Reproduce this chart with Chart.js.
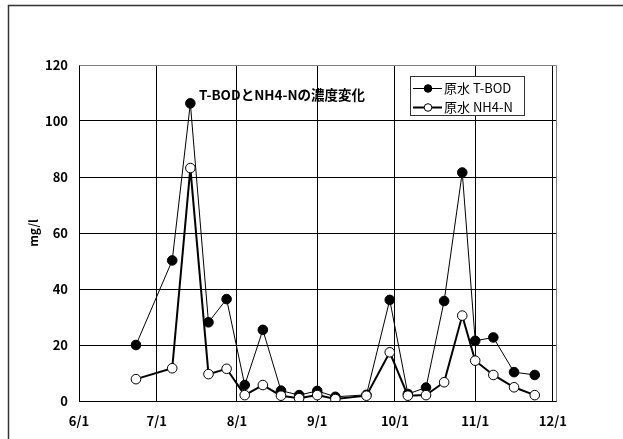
<!DOCTYPE html>
<html>
<head>
<meta charset="utf-8">
<script src="https://cdn.jsdelivr.net/npm/chart.js@4.4.1/dist/chart.umd.min.js"></script>
<style>
  html, body { margin: 0; padding: 0; background: #fff; }
  #wrap { width: 623px; height: 439px; }
</style>
</head>
<body>
<div id="wrap"><canvas id="c" width="623" height="439"></canvas></div>
<script>
// Sampling dates (month/day) and measured concentrations in mg/l
const sampleDates = ['6/23', '7/7', '7/14', '7/21', '7/28', '8/4', '8/11', '8/18', '8/25', '9/1',
                     '9/8', '9/20', '9/29', '10/6', '10/13', '10/20', '10/27', '11/1', '11/8', '11/16', '11/24'];
const tBod = [20, 50.2, 106.3, 28.1, 36.4, 5.7, 25.4, 3.7, 2.1, 3.6,
              1.5, 2.2, 36.1, 2.5, 4.8, 35.7, 81.6, 21.5, 22.7, 10.3, 9.3];
const nh4n = [7.8, 11.7, 83.2, 9.6, 11.5, 2.1, 5.7, 1.9, 1.0, 2.1,
              0.7, 1.9, 17.4, 1.9, 2.1, 6.7, 30.5, 14.4, 9.3, 4.9, 2.1];

// Axis ticks
const monthTicks = ['6/1', '7/1', '8/1', '9/1', '10/1', '11/1', '12/1'];
const yTickValues = [0, 20, 40, 60, 80, 100, 120];

// Texts
const chartTitle = 'T-BODとNH4-Nの濃度変化';
const seriesNames = ['原水 T-BOD', '原水 NH4-N'];
const yAxisTitle = 'mg/l';

// Days elapsed since 6/1 for a "m/d" string
function dayOf(md) {
  const [m, d] = md.split('/').map(Number);
  return (Date.UTC(2001, m - 1, d) - Date.UTC(2001, 5, 1)) / 86400000;
}

const toPoints = vals => vals.map((v, i) => ({ x: dayOf(sampleDates[i]), y: v }));

const jpFont = "'Noto Sans CJK JP', sans-serif";
const tickFont = { family: jpFont, size: 13, weight: 'bold' };

// Frame, title and legend box drawn on the canvas
const decor = {
  id: 'decor',
  beforeDraw(chart) {
    const ctx = chart.ctx;
    ctx.save();
    ctx.fillStyle = '#fff';
    ctx.fillRect(0, 0, chart.width, chart.height);
    ctx.strokeStyle = '#333';
    ctx.lineWidth = 1.5;
    ctx.strokeRect(8.5, 5.5, 800, 600);
    ctx.restore();
  },
  beforeDatasetsDraw(chart) {
    const { ctx, chartArea: a } = chart;
    ctx.save();
    ctx.strokeStyle = '#808080';
    ctx.lineWidth = 1;
    ctx.beginPath();
    ctx.moveTo(Math.round(a.left) + 0.5, Math.round(a.top) + 0.5);
    ctx.lineTo(Math.round(a.right) + 0.5, Math.round(a.top) + 0.5);
    ctx.lineTo(Math.round(a.right) + 0.5, Math.round(a.bottom) + 0.5);
    ctx.stroke();
    ctx.restore();
  },
  afterDraw(chart) {
    const ctx = chart.ctx;
    ctx.save();
    // chart title inside the plot
    ctx.fillStyle = '#000';
    ctx.font = 'bold 13.5px ' + jpFont;
    ctx.textAlign = 'left';
    ctx.textBaseline = 'middle';
    ctx.fillText(chartTitle, 199, 95);

    // legend box
    const bx = 410.5, by = 76.5, bw = 114, bh = 39;
    ctx.fillStyle = '#fff';
    ctx.fillRect(bx, by, bw, bh);
    ctx.strokeStyle = '#333';
    ctx.lineWidth = 1;
    ctx.strokeRect(bx, by, bw, bh);
    const rows = [88.5, 107.5];
    chart.data.datasets.forEach((ds, i) => {
      const y = rows[i];
      ctx.strokeStyle = ds.borderColor;
      ctx.lineWidth = ds.borderWidth;
      ctx.beginPath();
      ctx.moveTo(413, y);
      ctx.lineTo(442, y);
      ctx.stroke();
      ctx.beginPath();
      ctx.arc(428, y, 3.8, 0, Math.PI * 2);
      ctx.fillStyle = ds.pointBackgroundColor;
      ctx.fill();
      ctx.lineWidth = 1;
      ctx.strokeStyle = ds.pointBorderColor;
      ctx.stroke();
      ctx.fillStyle = '#000';
      ctx.font = '13px ' + jpFont;
      ctx.textBaseline = 'middle';
      ctx.fillText(ds.label, 444, y);
    });
    ctx.restore();
  }
};

new Chart(document.getElementById('c'), {
  type: 'line',
  data: {
    datasets: [
      {
        label: seriesNames[0],
        data: toPoints(tBod),
        borderColor: '#000',
        borderWidth: 1,
        pointRadius: 4.8,
        pointBackgroundColor: '#000',
        pointBorderColor: '#000',
        pointBorderWidth: 1,
        order: 1
      },
      {
        label: seriesNames[1],
        data: toPoints(nh4n),
        borderColor: '#000',
        borderWidth: 2,
        pointRadius: 4.8,
        pointBackgroundColor: '#fff',
        pointBorderColor: '#000',
        pointBorderWidth: 1,
        order: 0
      }
    ]
  },
  options: {
    responsive: false,
    animation: false,
    devicePixelRatio: 1,
    layout: { padding: { left: 0, top: 65, right: 67, bottom: 0 } },
    plugins: { legend: { display: false }, title: { display: false }, tooltip: { enabled: false } },
    scales: {
      x: {
        type: 'linear',
        min: 0,
        max: 184.2,
        afterBuildTicks(scale) { scale.ticks = monthTicks.map(m => ({ value: dayOf(m) })); },
        afterFit(scale) { scale.height = 38; },
        ticks: {
          autoSkip: false,
          maxRotation: 0,
          padding: 12,
          color: '#000',
          font: tickFont,
          callback(v) {
            const i = monthTicks.findIndex(m => dayOf(m) === v);
            return i >= 0 ? monthTicks[i] : '';
          }
        },
        grid: { color: '#000', lineWidth: 1, drawTicks: false },
        border: { color: '#000', width: 1 }
      },
      y: {
        min: 0,
        max: 120,
        afterBuildTicks(scale) { scale.ticks = yTickValues.map(v => ({ value: v })); },
        afterFit(scale) { scale.width = 79; },
        ticks: { padding: 11, color: '#000', font: tickFont },
        grid: {
          color: ctx => (ctx.tick && ctx.tick.value === 120 ? '#808080' : '#000'),
          lineWidth: 1,
          drawTicks: false
        },
        border: { color: '#000', width: 1 },
        title: {
          display: true,
          text: yAxisTitle,
          color: '#000',
          font: { family: jpFont, size: 12, weight: 'bold' },
          padding: { top: 26, bottom: 0 }
        }
      }
    }
  },
  plugins: [decor]
});
</script>
</body>
</html>
